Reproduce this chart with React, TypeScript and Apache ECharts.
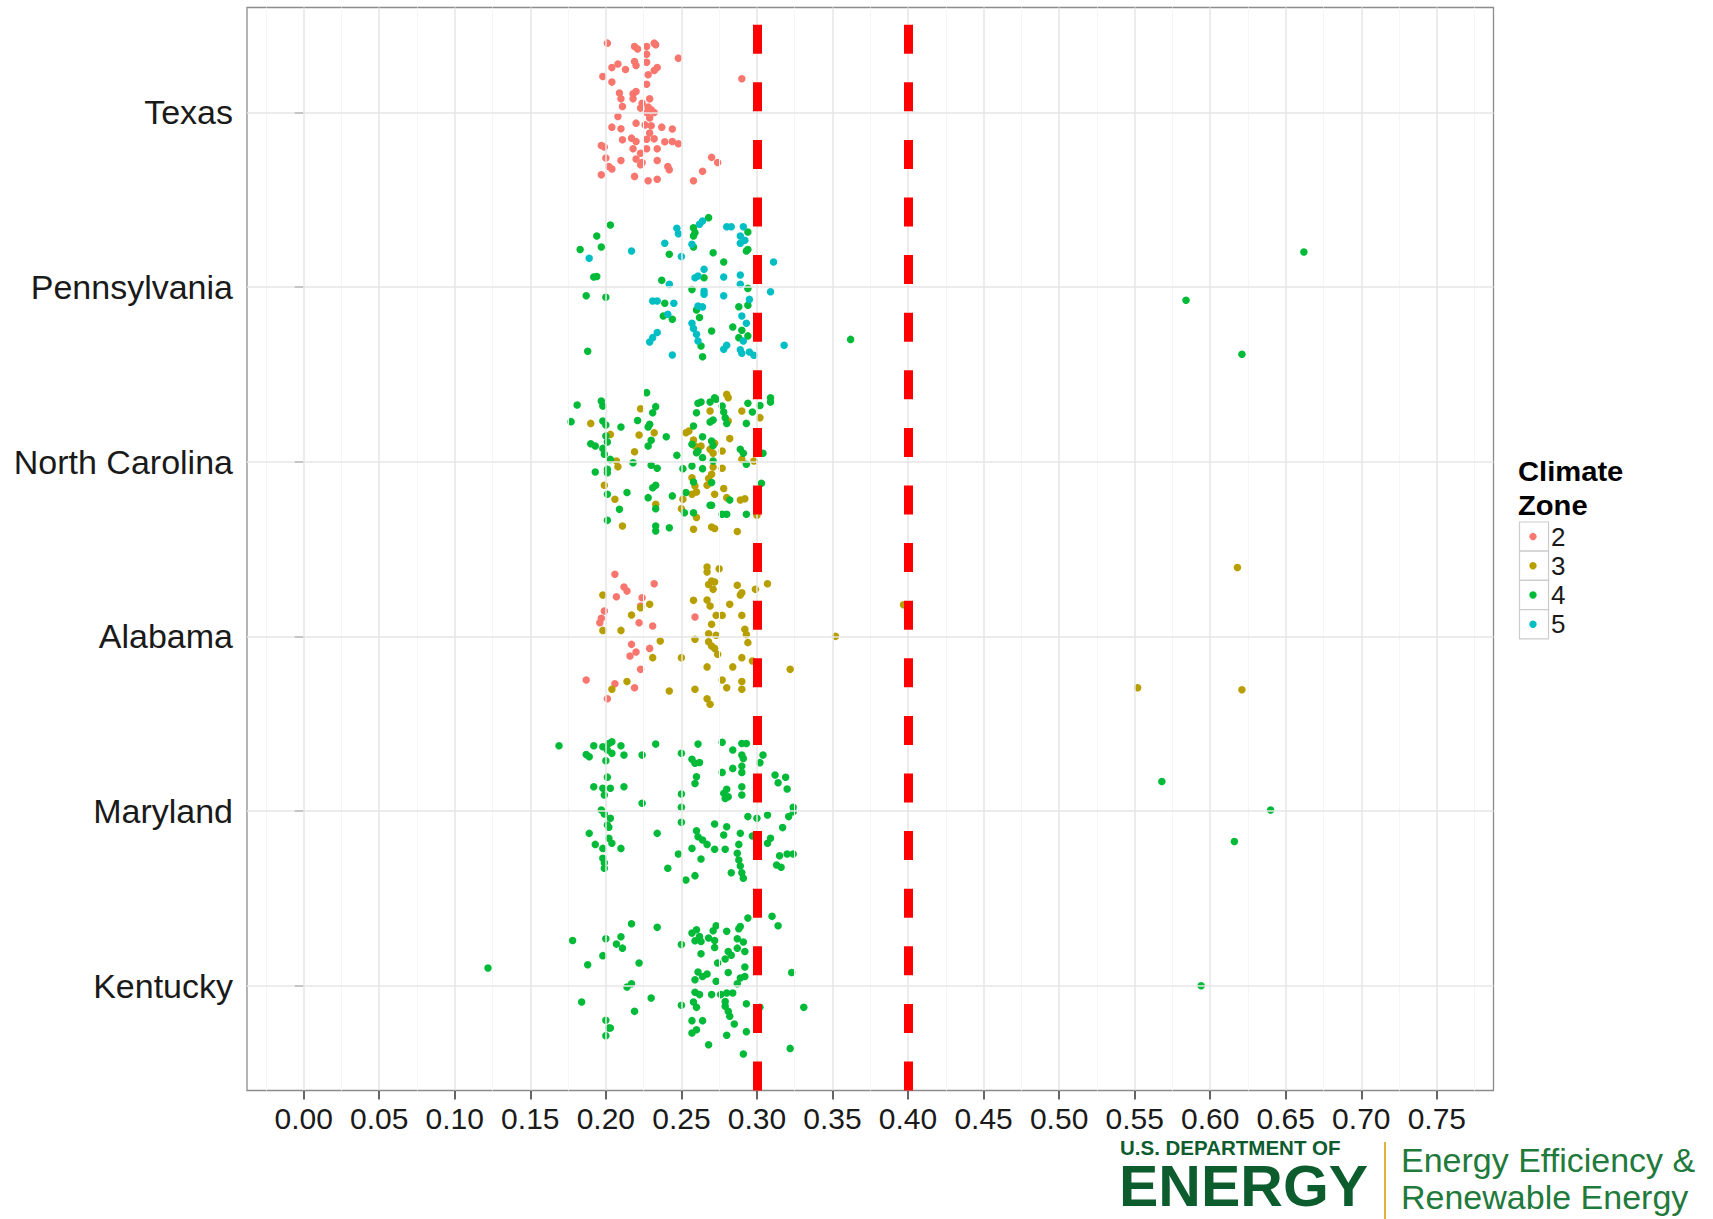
import React, { useEffect, useRef } from 'react';
import * as echarts from 'echarts';

const STATES = ['Texas', 'Pennsylvania', 'North Carolina', 'Alabama', 'Maryland', 'Kentucky'];
const ZONES = ['2', '3', '4', '5'];
const ZONE_COLORS = ['#F8766D', '#B79F00', '#00BA38', '#00BFC4'];
const X_TICKS = [0, 0.05, 0.1, 0.15, 0.2, 0.25, 0.3, 0.35, 0.4, 0.45, 0.5, 0.55, 0.6, 0.65, 0.7, 0.75];
const X_MINOR = [-0.025, 0.025, 0.075, 0.125, 0.175, 0.225, 0.275, 0.325, 0.375, 0.425, 0.475, 0.525, 0.575, 0.625, 0.675, 0.725, 0.775];
const THRESHOLDS = [0.3, 0.4];
const X_MIN = -0.0375;
const X_MAX = 0.7875;
const Y_MIN = 0.4;
const Y_MAX = 6.6;

// [value, vertical jitter in category units]
const texasZ2 = [[0.201,-0.396],[0.219,-0.377],[0.221,-0.363],[0.227,-0.377],[0.232,-0.396],[0.233,-0.387],[0.227,-0.333],[0.248,-0.310],[0.227,-0.287],[0.219,-0.291],[0.220,-0.268],[0.208,-0.277],[0.204,-0.256],[0.213,-0.245],[0.234,-0.256],[0.232,-0.239],[0.228,-0.215],[0.198,-0.205],[0.204,-0.173],[0.227,-0.161],[0.290,-0.192],[0.209,-0.110],[0.218,-0.106],[0.220,-0.119],[0.210,-0.077],[0.218,-0.077],[0.229,-0.077],[0.224,-0.052],[0.211,-0.033],[0.223,-0.024],[0.228,-0.030],[0.230,-0.014],[0.227,0.001],[0.232,0.001],[0.229,0.033],[0.208,0.024],[0.220,0.062],[0.226,0.072],[0.230,0.077],[0.237,0.085],[0.244,0.096],[0.204,0.085],[0.210,0.094],[0.229,0.119],[0.217,0.148],[0.211,0.157],[0.220,0.167],[0.227,0.154],[0.232,0.152],[0.239,0.169],[0.244,0.167],[0.248,0.180],[0.197,0.190],[0.199,0.199],[0.218,0.209],[0.227,0.209],[0.234,0.209],[0.223,0.234],[0.200,0.262],[0.210,0.276],[0.220,0.268],[0.224,0.287],[0.234,0.276],[0.270,0.258],[0.274,0.287],[0.202,0.310],[0.204,0.325],[0.241,0.310],[0.242,0.329],[0.197,0.358],[0.219,0.367],[0.228,0.392],[0.234,0.383],[0.264,0.338],[0.258,0.392],[0.223,0.300]];

const pennsylvaniaZ4 = [[0.203,-0.355],[0.194,-0.292],[0.183,-0.215],[0.197,-0.229],[0.192,-0.057],[0.194,-0.060],[0.187,0.050],[0.200,0.059],[0.188,0.368],[0.242,-0.187],[0.258,-0.339],[0.259,-0.311],[0.258,-0.292],[0.268,-0.397],[0.258,-0.229],[0.294,-0.315],[0.293,-0.206],[0.294,-0.215],[0.271,-0.196],[0.278,-0.143],[0.237,-0.038],[0.265,-0.053],[0.294,0.008],[0.257,0.015],[0.239,0.093],[0.288,0.113],[0.294,0.105],[0.260,0.132],[0.238,0.166],[0.244,0.185],[0.262,0.175],[0.270,0.252],[0.284,0.229],[0.290,0.248],[0.294,0.280],[0.288,0.290],[0.263,0.338],[0.264,0.399],[0.662,-0.200],[0.584,0.076],[0.621,0.385],[0.362,0.300]];

const pennsylvaniaZ5 = [[0.189,-0.164],[0.217,-0.206],[0.247,-0.336],[0.248,-0.305],[0.239,-0.250],[0.250,-0.174],[0.262,-0.359],[0.264,-0.378],[0.257,-0.244],[0.280,-0.345],[0.283,-0.345],[0.291,-0.345],[0.289,-0.292],[0.292,-0.267],[0.289,-0.250],[0.311,-0.143],[0.242,-0.015],[0.265,-0.101],[0.261,-0.063],[0.259,-0.053],[0.278,-0.057],[0.289,-0.069],[0.289,-0.015],[0.265,0.023],[0.265,0.042],[0.278,0.050],[0.309,0.027],[0.231,0.080],[0.234,0.080],[0.245,0.093],[0.295,0.071],[0.261,0.109],[0.264,0.114],[0.241,0.156],[0.290,0.166],[0.293,0.208],[0.257,0.208],[0.258,0.238],[0.291,0.309],[0.234,0.261],[0.231,0.290],[0.229,0.315],[0.260,0.271],[0.261,0.309],[0.278,0.357],[0.280,0.334],[0.289,0.360],[0.290,0.379],[0.295,0.372],[0.298,0.391],[0.244,0.389],[0.318,0.334]];

const northCarolinaZ3 = [[0.190,-0.219],[0.203,-0.156],[0.207,-0.004],[0.208,0.029],[0.199,0.135],[0.206,0.215],[0.211,0.368],[0.223,-0.303],[0.232,-0.166],[0.222,-0.153],[0.219,-0.057],[0.233,0.244],[0.251,0.215],[0.250,0.269],[0.257,0.187],[0.260,0.174],[0.260,0.320],[0.258,0.387],[0.253,-0.166],[0.255,-0.175],[0.258,-0.124],[0.259,-0.090],[0.263,-0.090],[0.271,-0.048],[0.272,-0.105],[0.269,-0.071],[0.271,0.031],[0.277,0.038],[0.277,-0.061],[0.257,0.092],[0.259,0.139],[0.270,0.072],[0.268,0.097],[0.267,0.135],[0.272,0.187],[0.278,0.154],[0.280,0.206],[0.270,0.374],[0.272,0.383],[0.287,0.400],[0.280,-0.385],[0.281,-0.366],[0.269,-0.290],[0.281,-0.233],[0.282,-0.132],[0.290,-0.290],[0.302,-0.252],[0.290,-0.013],[0.298,-0.004],[0.289,0.219],[0.292,0.212],[0.300,0.307]];

const northCarolinaZ4 = [[0.181,-0.324],[0.177,-0.229],[0.197,-0.347],[0.198,-0.318],[0.198,-0.233],[0.200,-0.210],[0.210,-0.198],[0.190,-0.103],[0.193,-0.090],[0.200,-0.147],[0.201,-0.113],[0.198,-0.076],[0.199,-0.042],[0.203,-0.013],[0.193,0.059],[0.201,0.044],[0.201,0.063],[0.201,0.187],[0.214,0.177],[0.209,0.273],[0.201,0.336],[0.227,-0.395],[0.233,-0.315],[0.231,-0.280],[0.221,-0.236],[0.229,-0.214],[0.228,-0.198],[0.230,-0.122],[0.228,-0.090],[0.240,-0.143],[0.218,0.006],[0.230,0.021],[0.234,0.038],[0.233,0.135],[0.231,0.149],[0.228,0.206],[0.233,0.269],[0.233,0.368],[0.233,0.397],[0.242,0.378],[0.244,0.196],[0.247,-0.036],[0.252,0.292],[0.253,0.177],[0.258,0.292],[0.251,0.040],[0.257,0.025],[0.258,-0.204],[0.261,-0.061],[0.264,-0.143],[0.264,-0.023],[0.260,-0.051],[0.257,-0.099],[0.270,-0.118],[0.271,-0.093],[0.271,-0.004],[0.264,0.040],[0.258,0.116],[0.270,0.120],[0.282,0.219],[0.269,0.250],[0.270,0.250],[0.277,0.301],[0.280,0.301],[0.261,-0.334],[0.263,-0.341],[0.269,-0.341],[0.272,-0.366],[0.273,-0.357],[0.277,-0.318],[0.260,-0.280],[0.278,-0.284],[0.279,-0.252],[0.271,-0.238],[0.269,-0.227],[0.280,-0.218],[0.294,-0.334],[0.297,-0.284],[0.302,-0.322],[0.309,-0.366],[0.309,-0.341],[0.293,-0.219],[0.289,-0.071],[0.291,-0.048],[0.293,0.015],[0.304,-0.048],[0.303,0.124],[0.293,0.301]];

const alabamaZ2 = [[0.206,-0.355],[0.212,-0.282],[0.214,-0.259],[0.207,-0.227],[0.232,-0.301],[0.224,-0.221],[0.223,-0.174],[0.199,-0.145],[0.197,-0.103],[0.196,-0.078],[0.222,-0.078],[0.231,-0.059],[0.259,-0.111],[0.217,0.046],[0.220,0.090],[0.216,0.113],[0.229,0.069],[0.223,0.189],[0.187,0.250],[0.206,0.271],[0.219,0.294],[0.201,0.357]];

const alabamaZ3 = [[0.198,-0.236],[0.229,-0.183],[0.223,-0.164],[0.198,-0.034],[0.217,-0.122],[0.210,-0.034],[0.258,-0.206],[0.267,-0.397],[0.267,-0.368],[0.275,-0.387],[0.268,-0.297],[0.270,-0.317],[0.272,-0.311],[0.271,-0.269],[0.267,-0.208],[0.269,-0.174],[0.282,-0.183],[0.273,-0.120],[0.277,-0.120],[0.270,-0.069],[0.287,-0.292],[0.290,-0.250],[0.289,-0.236],[0.299,-0.269],[0.307,-0.301],[0.290,-0.120],[0.292,-0.040],[0.293,-0.011],[0.259,0.017],[0.268,-0.015],[0.273,-0.006],[0.268,0.031],[0.270,0.055],[0.272,0.069],[0.274,0.103],[0.294,0.036],[0.236,0.027],[0.231,0.122],[0.250,0.122],[0.290,0.122],[0.297,0.141],[0.267,0.175],[0.284,0.175],[0.322,0.189],[0.214,0.259],[0.204,0.303],[0.242,0.313],[0.259,0.303],[0.277,0.250],[0.290,0.259],[0.280,0.294],[0.290,0.303],[0.267,0.357],[0.269,0.389],[0.618,-0.394],[0.397,-0.181],[0.352,0.000],[0.552,0.294],[0.621,0.306]];

const marylandZ4 = [[0.169,-0.374],[0.187,-0.324],[0.189,-0.311],[0.192,-0.374],[0.198,-0.368],[0.202,-0.387],[0.204,-0.397],[0.201,-0.349],[0.204,-0.330],[0.200,-0.288],[0.210,-0.374],[0.212,-0.320],[0.224,-0.320],[0.233,-0.383],[0.250,-0.330],[0.261,-0.383],[0.257,-0.296],[0.259,-0.273],[0.262,-0.278],[0.260,-0.196],[0.259,-0.158],[0.277,-0.393],[0.284,-0.349],[0.290,-0.387],[0.293,-0.387],[0.290,-0.320],[0.291,-0.301],[0.284,-0.244],[0.277,-0.221],[0.290,-0.257],[0.290,-0.221],[0.304,-0.320],[0.302,-0.277],[0.201,-0.194],[0.192,-0.139],[0.198,-0.130],[0.203,-0.130],[0.199,-0.092],[0.212,-0.139],[0.224,-0.044],[0.250,-0.097],[0.250,-0.021],[0.278,-0.101],[0.280,-0.124],[0.279,-0.072],[0.281,-0.082],[0.290,-0.139],[0.290,-0.092],[0.312,-0.206],[0.319,-0.193],[0.314,-0.162],[0.320,-0.126],[0.197,-0.006],[0.199,0.017],[0.203,0.042],[0.201,0.080],[0.202,0.093],[0.189,0.128],[0.193,0.191],[0.198,0.214],[0.202,0.156],[0.204,0.185],[0.210,0.214],[0.198,0.271],[0.199,0.296],[0.199,0.328],[0.234,0.128],[0.250,0.065],[0.260,0.113],[0.261,0.147],[0.264,0.166],[0.267,0.191],[0.257,0.214],[0.248,0.246],[0.263,0.275],[0.241,0.328],[0.259,0.370],[0.253,0.395],[0.272,0.074],[0.280,0.090],[0.278,0.137],[0.289,0.128],[0.272,0.219],[0.279,0.219],[0.288,0.191],[0.287,0.242],[0.288,0.280],[0.289,0.315],[0.290,0.353],[0.291,0.385],[0.283,0.353],[0.294,0.032],[0.300,0.042],[0.307,0.023],[0.321,0.032],[0.324,-0.021],[0.324,0.004],[0.317,0.095],[0.297,0.143],[0.309,0.156],[0.307,0.185],[0.315,0.256],[0.320,0.246],[0.324,0.246],[0.313,0.309],[0.316,0.322],[0.568,-0.169],[0.640,-0.006],[0.616,0.175]];

const kentuckyZ4 = [[0.122,-0.101],[0.178,-0.259],[0.200,-0.269],[0.210,-0.280],[0.207,-0.238],[0.211,-0.215],[0.217,-0.355],[0.234,-0.334],[0.198,-0.172],[0.188,-0.120],[0.222,-0.130],[0.214,0.008],[0.217,-0.011],[0.184,0.093],[0.230,0.071],[0.219,0.147],[0.200,0.198],[0.202,0.242],[0.203,0.242],[0.200,0.286],[0.250,-0.236],[0.257,-0.301],[0.260,-0.320],[0.259,-0.257],[0.262,-0.282],[0.263,-0.253],[0.268,-0.273],[0.272,-0.259],[0.271,-0.315],[0.273,-0.343],[0.280,-0.311],[0.288,-0.326],[0.289,-0.339],[0.294,-0.387],[0.287,-0.269],[0.291,-0.250],[0.263,-0.183],[0.272,-0.219],[0.287,-0.215],[0.292,-0.196],[0.281,-0.196],[0.283,-0.174],[0.279,-0.153],[0.274,-0.130],[0.292,-0.107],[0.261,-0.078],[0.264,-0.053],[0.267,-0.067],[0.259,-0.034],[0.273,-0.025],[0.281,-0.076],[0.289,-0.044],[0.292,-0.053],[0.287,-0.011],[0.259,0.038],[0.262,0.051],[0.270,0.051],[0.276,0.051],[0.280,0.042],[0.284,0.042],[0.258,0.093],[0.260,0.124],[0.250,0.112],[0.279,0.090],[0.279,0.118],[0.281,0.147],[0.282,0.175],[0.293,0.103],[0.302,0.124],[0.257,0.200],[0.264,0.200],[0.285,0.219],[0.257,0.271],[0.260,0.252],[0.280,0.284],[0.293,0.263],[0.268,0.338],[0.291,0.391],[0.310,-0.397],[0.314,-0.343],[0.323,-0.076],[0.331,0.124],[0.322,0.359],[0.594,0.000]];

// which state (index into STATES) and zone (index into ZONES) each group belongs to
const GROUPS = [
  { state: 0, zone: 0, points: texasZ2 },
  { state: 1, zone: 2, points: pennsylvaniaZ4 },
  { state: 1, zone: 3, points: pennsylvaniaZ5 },
  { state: 2, zone: 1, points: northCarolinaZ3 },
  { state: 2, zone: 2, points: northCarolinaZ4 },
  { state: 3, zone: 0, points: alabamaZ2 },
  { state: 3, zone: 1, points: alabamaZ3 },
  { state: 4, zone: 2, points: marylandZ4 },
  { state: 5, zone: 2, points: kentuckyZ4 },
];

const FONT = '"Liberation Sans", Arial, Helvetica, sans-serif';

function buildOption() {
  const Y_POS = STATES.map((_, i) => i + 1);

  const gridLines: any[] = [];
  X_MINOR.forEach((v) => {
    gridLines.push([
      { coord: [v, Y_MAX], lineStyle: { color: '#f5f5f5', width: 1, type: 'solid' } },
      { coord: [v, Y_MIN] },
    ]);
  });
  X_TICKS.forEach((v) => {
    gridLines.push([
      { coord: [v, Y_MAX], lineStyle: { color: '#e6e6e6', width: 1.5, type: 'solid' } },
      { coord: [v, Y_MIN] },
    ]);
  });
  Y_POS.forEach((p) => {
    gridLines.push([
      { coord: [X_MIN, p], lineStyle: { color: '#e6e6e6', width: 1.5, type: 'solid' } },
      { coord: [X_MAX, p] },
    ]);
  });

  const thresholdLines = THRESHOLDS.map((v) => [
    { coord: [v, Y_MAX] },
    { coord: [v, Y_MIN] },
  ]);

  const scatterSeries = ZONES.map((z, zi) => ({
    type: 'scatter',
    name: z,
    z: 3,
    symbol: 'circle',
    symbolSize: 7.5,
    itemStyle: { color: ZONE_COLORS[zi], opacity: 1 },
    emphasis: { disabled: true },
    data: GROUPS.filter((g) => g.zone === zi).flatMap((g) =>
      g.points.map((p) => [p[0], g.state + 1 + p[1]])
    ),
  }));

  const graphic: any[] = [];
  // legend
  graphic.push({
    type: 'text',
    x: 1518,
    y: 455,
    scaleX: 1.08,
    style: {
      text: 'Climate\nZone',
      font: `bold 27px ${FONT}`,
      lineHeight: 34,
      fill: '#000',
      verticalAlign: 'top',
    },
  });
  ZONES.forEach((z, i) => {
    const top = 522 + i * 29.2;
    graphic.push({
      type: 'rect',
      shape: { x: 1519.5, y: top, width: 29, height: 29.2 },
      style: { fill: '#fff', stroke: '#cccccc', lineWidth: 1.2 },
    });
    graphic.push({
      type: 'circle',
      shape: { cx: 1533, cy: top + 14.6, r: 3.7 },
      style: { fill: ZONE_COLORS[i] },
    });
    graphic.push({
      type: 'text',
      x: 1551,
      y: top + 14.6,
      style: {
        text: z,
        font: `26px ${FONT}`,
        fill: '#1a1a1a',
        verticalAlign: 'middle',
        align: 'left',
      },
    });
  });
  // DOE logo
  graphic.push({
    type: 'text',
    x: 1120,
    y: 1147,
    style: { text: 'U.S. DEPARTMENT OF', font: `bold 20.5px ${FONT}`, fill: '#0d5c2e', verticalAlign: 'middle' },
  });
  graphic.push({
    type: 'text',
    x: 1119,
    y: 1186,
    scaleX: 1.035,
    style: { text: 'ENERGY', font: `bold 57px ${FONT}`, fill: '#0d5c2e', verticalAlign: 'middle' },
  });
  graphic.push({
    type: 'line',
    shape: { x1: 1385, y1: 1142, x2: 1385, y2: 1219 },
    style: { stroke: '#e2b23a', lineWidth: 2 },
  });
  graphic.push({
    type: 'text',
    x: 1401,
    y: 1160,
    style: { text: 'Energy Efficiency &', font: `34px ${FONT}`, fill: '#1f7a3c', verticalAlign: 'middle' },
  });
  graphic.push({
    type: 'text',
    x: 1401,
    y: 1197,
    style: { text: 'Renewable Energy', font: `34px ${FONT}`, fill: '#1f7a3c', verticalAlign: 'middle' },
  });

  return {
    animation: false,
    backgroundColor: '#fff',
    grid: {
      left: 247,
      top: 7.5,
      width: 1246.5,
      height: 1083,
      show: true,
      backgroundColor: '#fff',
      borderColor: '#8c8c8c',
      borderWidth: 1.3,
    },
    xAxis: {
      type: 'value',
      min: X_MIN,
      max: X_MAX,
      splitLine: { show: false },
      axisLine: { show: false },
      axisTick: {
        show: true,
        customValues: X_TICKS,
        length: 9,
        lineStyle: { color: '#333', width: 1.5 },
      },
      axisLabel: {
        customValues: X_TICKS,
        formatter: (v: number) => v.toFixed(2),
        fontSize: 30,
        fontFamily: FONT,
        color: '#1a1a1a',
        margin: 13,
      },
    },
    yAxis: {
      type: 'value',
      inverse: true,
      min: Y_MIN,
      max: Y_MAX,
      splitLine: { show: false },
      axisLine: { show: false },
      axisTick: {
        show: true,
        customValues: Y_POS,
        length: 9,
        lineStyle: { color: '#333', width: 1.5 },
      },
      axisLabel: {
        customValues: Y_POS,
        formatter: (v: number) => STATES[Math.round(v) - 1] || '',
        fontSize: 34,
        fontFamily: FONT,
        color: '#1a1a1a',
        margin: 14,
      },
    },
    series: [
      {
        type: 'scatter',
        name: 'grid',
        z: 1,
        silent: true,
        data: [],
        markLine: {
          silent: true,
          animation: false,
          symbol: ['none', 'none'],
          label: { show: false },
          emphasis: { disabled: true },
          data: gridLines,
        },
      },
      ...scatterSeries,
      {
        type: 'scatter',
        name: 'thresholds',
        z: 5,
        silent: true,
        data: [],
        markLine: {
          silent: true,
          animation: false,
          symbol: ['none', 'none'],
          label: { show: false },
          emphasis: { disabled: true },
          lineStyle: { color: '#ff0000', width: 9, type: [29, 28.6], dashOffset: 0 },
          data: thresholdLines,
        },
      },
    ],
    graphic,
  };
}

export default function App() {
  const ref = useRef<HTMLDivElement>(null);
  useEffect(() => {
    if (!ref.current) return;
    const chart = echarts.init(ref.current, null, { renderer: 'svg' });
    chart.setOption(buildOption() as any);
    return () => chart.dispose();
  }, []);
  return (
    <div
      ref={ref}
      style={{ position: 'absolute', left: 0, top: 0, width: 1713, height: 1219, background: '#fff' }}
    />
  );
}
